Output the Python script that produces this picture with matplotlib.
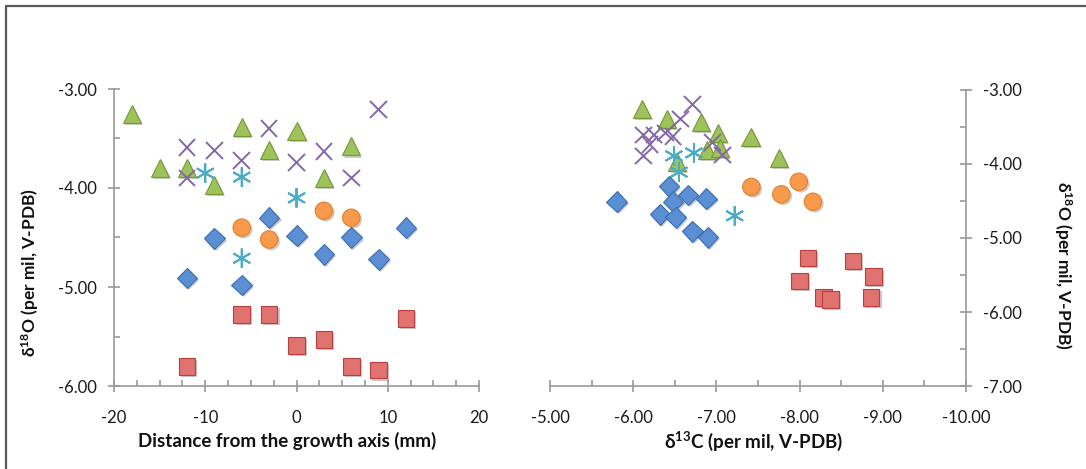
import numpy as np
import matplotlib.pyplot as plt
from matplotlib.lines import Line2D
import matplotlib.patheffects as pe
from matplotlib.ticker import MultipleLocator, FormatStrFormatter

plt.rcParams['font.family'] = ['Lato', 'DejaVu Sans']
plt.rcParams['mathtext.fontset'] = 'custom'
plt.rcParams['mathtext.rm'] = 'Lato:bold'
plt.rcParams['mathtext.default'] = 'rm'
plt.rcParams['axes.unicode_minus'] = False

# left panel: distance from growth axis (mm) vs d18O
dist_blue = [-12, -9, -6, -3, 0, 3, 6, 9, 12]
o18_blue = [-4.91, -4.51, -4.98, -4.30, -4.48, -4.67, -4.50, -4.72, -4.40]
dist_red = [-12, -6, -3, 0, 3, 6, 9, 12]
o18_red = [-5.80, -5.28, -5.28, -5.59, -5.53, -5.80, -5.84, -5.32]
dist_green = [-18, -15, -12, -9, -6, -3, 0, 3, 6]
o18_green = [-3.25, -3.80, -3.80, -3.97, -3.38, -3.62, -3.42, -3.90, -3.58]
dist_purple = [-12, -12, -9, -6, -3, 0, 3, 6, 9]
o18_purple = [-3.59, -3.90, -3.62, -3.72, -3.40, -3.74, -3.63, -3.90, -3.21]
dist_cyan = [-10, -6, 0, -6]
o18_cyan = [-3.85, -3.89, -4.10, -4.71]
dist_orange = [-6, -3, 3, 6]
o18_orange = [-4.40, -4.52, -4.23, -4.30]

# right panel: d13C vs d18O
c13_blue = [-5.80, -6.43, -6.48, -6.66, -6.88, -6.32, -6.51, -6.71, -6.90]
c_o18_blue = [-4.51, -4.30, -4.51, -4.42, -4.47, -4.68, -4.72, -4.91, -4.99]
c13_red = [-8.10, -8.00, -8.29, -8.37, -8.64, -8.89, -8.86]
c_o18_red = [-5.27, -5.58, -5.80, -5.83, -5.31, -5.52, -5.80]
c13_green = [-6.11, -6.41, -6.81, -7.02, -7.41, -7.75, -6.89, -7.04, -6.53]
c_o18_green = [-3.26, -3.39, -3.43, -3.58, -3.64, -3.92, -3.81, -3.78, -3.97]
c13_purple = [-6.71, -6.57, -6.12, -6.25, -6.20, -6.39, -6.48, -6.12, -6.95, -7.07]
c_o18_purple = [-3.20, -3.39, -3.61, -3.61, -3.74, -3.58, -3.63, -3.89, -3.71, -3.88]
c13_cyan = [-6.49, -6.73, -6.55, -7.22]
c_o18_cyan = [-3.89, -3.85, -4.11, -4.70]
c13_orange = [-7.42, -7.78, -7.99, -8.16]
c_o18_orange = [-4.31, -4.41, -4.24, -4.51]

W, H = 1086, 469
fig = plt.figure(figsize=(W / 100, H / 100), dpi=100)

ax1 = fig.add_axes([114 / W, 1 - 386 / H, 365 / W, 297 / H])
ax2 = fig.add_axes([550 / W, 1 - 386 / H, 416 / W, 296 / H])

shadow = [pe.SimplePatchShadow(offset=(1.5, -1.5), alpha=0.25), pe.Normal()]

styles = {
    'blue': dict(marker='D', ms=10.5, mfc='#5a8fd4', mec='#3c6db0', mew=0.8),
    'red': dict(marker='s', ms=12, mfc='#e07270', mec='#b8413e', mew=0.8),
    'green': dict(marker='^', ms=13, mfc='#9dc35a', mec='#76983a', mew=0.8),
    'purple': dict(marker='x', ms=12, mfc='none', mec='#8567a8', mew=1.4),
    'cyan': dict(marker=(6, 2, 0), ms=14, mfc='none', mec='#4bacc6', mew=1.4),
    'orange': dict(marker='o', ms=12.5, mfc='#f89a4c', mec='#e47f2c', mew=0.8),
}

left = [
    ('blue', dist_blue, o18_blue),
    ('red', dist_red, o18_red),
    ('green', dist_green, o18_green),
    ('purple', dist_purple, o18_purple),
    ('cyan', dist_cyan, o18_cyan),
    ('orange', dist_orange, o18_orange),
]
right = [
    ('blue', c13_blue, c_o18_blue),
    ('red', c13_red, c_o18_red),
    ('green', c13_green, c_o18_green),
    ('purple', c13_purple, c_o18_purple),
    ('cyan', c13_cyan, c_o18_cyan),
    ('orange', c13_orange, c_o18_orange),
]

for name, x, y in left:
    ax1.plot(x, y, ls='none', path_effects=shadow, clip_on=False, **styles[name])
for name, x, y in right:
    ax2.plot(x, y, ls='none', path_effects=shadow, clip_on=False, **styles[name])

axis_col = '#9a9a9a'

ax1.set_xlim(-20, 20)
ax1.set_ylim(-6, -3)
ax1.xaxis.set_major_locator(MultipleLocator(10))
ax1.xaxis.set_minor_locator(MultipleLocator(2.5))
ax1.yaxis.set_major_locator(MultipleLocator(1))
ax1.yaxis.set_minor_locator(MultipleLocator(0.5))
ax1.yaxis.set_major_formatter(FormatStrFormatter('%.2f'))
for s in ['top', 'right']:
    ax1.spines[s].set_visible(False)

ax2.set_xlim(-5, -10)
ax2.set_ylim(-7, -3)
ax2.xaxis.set_major_locator(MultipleLocator(1))
ax2.xaxis.set_minor_locator(MultipleLocator(0.5))
ax2.yaxis.set_major_locator(MultipleLocator(1))
ax2.yaxis.set_minor_locator(MultipleLocator(0.5))
ax2.xaxis.set_major_formatter(FormatStrFormatter('%.2f'))
ax2.yaxis.set_major_formatter(FormatStrFormatter('%.2f'))
ax2.yaxis.tick_right()
for s in ['top', 'left']:
    ax2.spines[s].set_visible(False)

for ax in (ax1, ax2):
    for s in ax.spines.values():
        s.set_color(axis_col)
        s.set_linewidth(1.2)
    ax.tick_params(which='major', direction='inout', length=9, width=1.2,
                   color=axis_col, labelsize=12, labelcolor='#1a1a1a')
    ax.tick_params(which='minor', direction='in', length=4.5, width=1.2,
                   color=axis_col)
    ax.tick_params(axis='x', which='major', pad=13)
    ax.tick_params(axis='y', which='major', pad=8)
    ax.patch.set_alpha(0)

ax2.tick_params(axis='y', which='both', left=False, right=True)

lab = dict(fontweight='bold', color='#111111', ha='center', va='center')
fig.text(287 / W, 1 - 441 / H, 'Distance from the growth axis (mm)', fontsize=13.5, **lab)
fig.text(754 / W, 1 - 441 / H, r'δ$^{13}$C (per mil, V-PDB)', fontsize=13.5, **lab)
fig.text(30 / W, 1 - 273 / H, r'δ$^{18}$O (per mil, V-PDB)', rotation=90, fontsize=12.5, **lab)
fig.text(1063 / W, 1 - 265 / H, r'δ$^{18}$O (per mil, V-PDB)', rotation=-90, fontsize=12.5, **lab)

# chart frame (top and left edges visible)
fig.add_artist(Line2D([6 / W, 6 / W, 1.0], [0.0, 1 - 6 / H, 1 - 6 / H],
                      transform=fig.transFigure, color='#5a5a5a', lw=1.6))

fig.savefig('out.png', dpi=100)
